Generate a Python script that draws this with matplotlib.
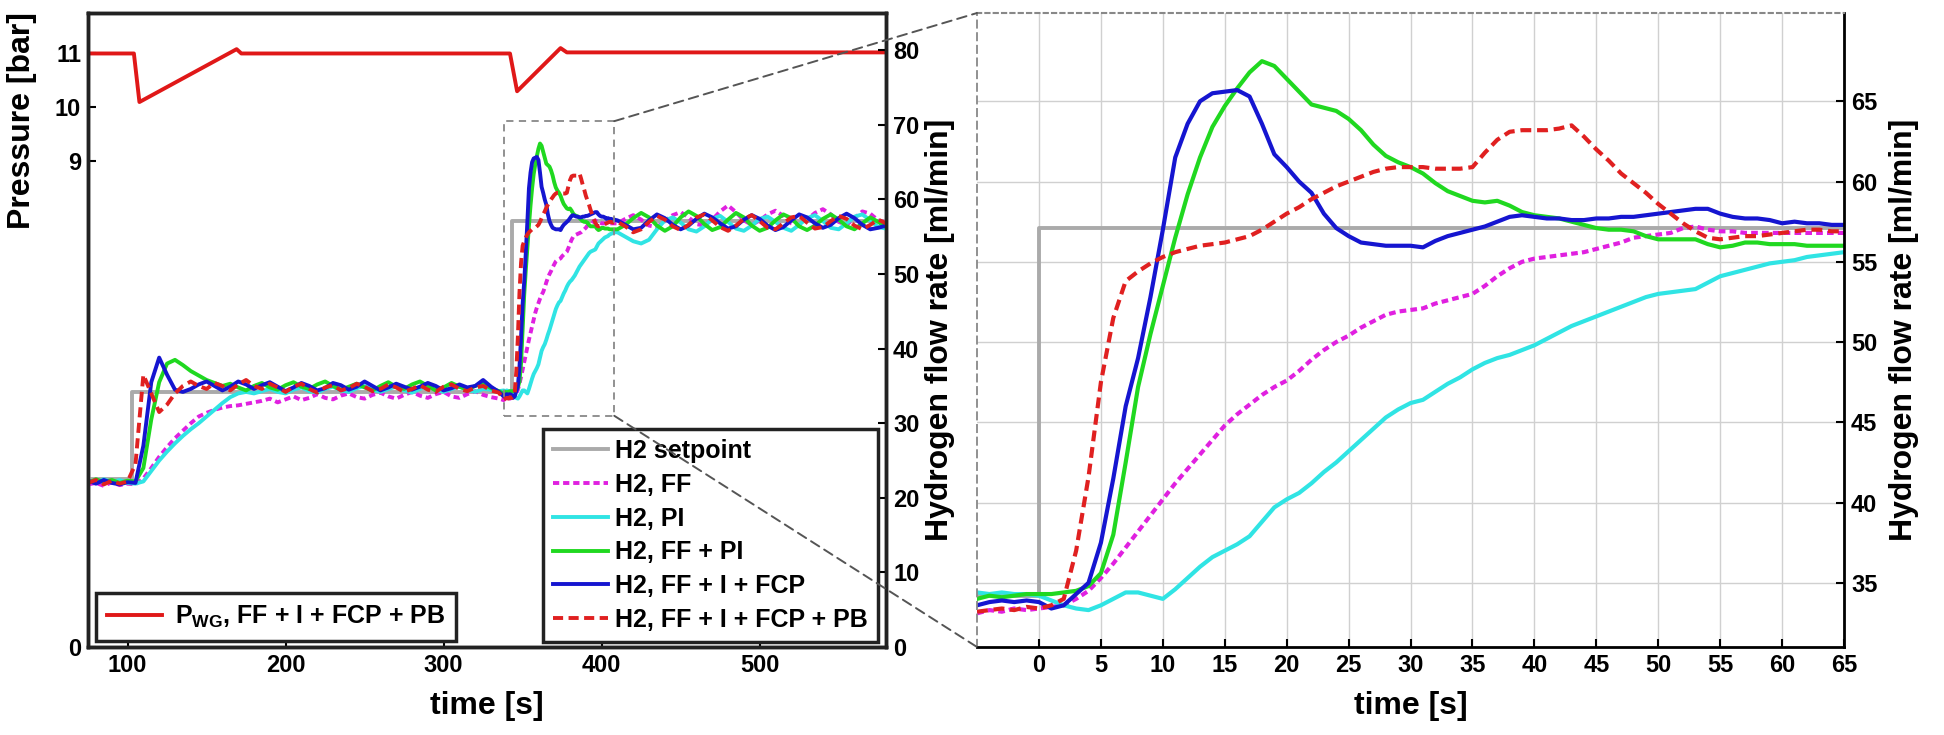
import numpy as np
import matplotlib
matplotlib.use('Agg')
import matplotlib.pyplot as plt
from matplotlib.patches import ConnectionPatch, Rectangle

plt.rcParams['font.family'] = 'Liberation Sans'
plt.rcParams['font.weight'] = 'bold'
plt.rcParams['axes.labelweight'] = 'bold'
plt.rcParams['mathtext.fontset'] = 'custom'
plt.rcParams['mathtext.rm'] = 'Liberation Sans:bold'
plt.rcParams['mathtext.it'] = 'Liberation Sans:bold'
plt.rcParams['mathtext.bf'] = 'Liberation Sans:bold'

# -- time of the second setpoint step (zoom window is relative to it)
t_step = 343.0

# -- left panel time grids [s]
t_pre = np.arange(75, 336, 5)
t_post = np.arange(410, 581, 5)
# -- zoom window time grid [s], relative to t_step
t_zoom = np.arange(-5, 66, 1)

# -- setpoint
sp_t = [75, 103, 103, 343, 343, 580]
sp_v = [22.5, 22.5, 34.2, 34.2, 57.1, 57.1]

# -- pressure P_WG [bar]
p_t = [75, 104, 107.5, 169, 172, 342, 346.5, 374, 378, 580]
p_v = [11.0, 11.0, 10.1, 11.08, 11.0, 11.0, 10.3, 11.1, 11.02, 11.02]

# -- H2 flow, before the zoom window (75..335 s)
ff_pre = [21.8, 22.0, 21.6, 22.1, 21.7, 21.9, 21.8, 22.6, 24.0, 25.5,
          26.8, 28.0, 29.0, 30.0, 30.9, 31.4, 31.8, 32.1, 32.3, 32.4,
          32.6, 32.8, 33.0, 33.3, 32.8, 33.2, 33.6, 33.1, 33.4, 33.9,
          33.4, 33.2, 33.7, 34.0, 33.5, 33.3, 33.8, 34.1, 33.6, 33.3,
          33.8, 34.2, 33.7, 33.4, 33.9, 34.2, 33.6, 33.4, 33.9, 34.3,
          33.8, 33.5, 33.3]
pi_pre = [22.3, 22.0, 22.5, 22.1, 22.4, 22.0, 21.9, 22.2, 23.6, 25.0,
          26.2, 27.3, 28.3, 29.2, 30.0, 30.9, 31.8, 32.7, 33.5, 34.0,
          34.2, 34.0, 34.3, 34.6, 34.2, 34.0, 34.5, 34.8, 34.3, 34.1,
          34.6, 34.9, 34.4, 34.2, 34.7, 35.0, 34.5, 34.2, 34.6, 34.9,
          34.4, 34.1, 34.6, 35.0, 34.5, 34.2, 34.6, 34.9, 34.5, 34.2,
          34.6, 34.5, 34.3]
ffpi_pre = [22.0, 22.5, 22.1, 22.4, 22.0, 22.3, 22.2, 24.0, 30.5, 35.5,
            38.0, 38.5, 37.8, 37.0, 36.4, 35.8, 35.4, 35.0, 35.3, 34.8,
            34.4, 35.0, 35.4, 34.8, 34.5, 35.1, 35.5, 34.9, 34.6, 35.2,
            35.6, 35.0, 34.5, 34.9, 35.3, 34.8, 34.4, 35.0, 35.5, 34.9,
            34.6, 35.2, 35.6, 35.0, 34.4, 34.8, 35.4, 34.9, 34.5, 35.0,
            35.3, 34.7, 34.3]
fcp_pre = [22.3, 21.9, 22.4, 22.0, 21.8, 22.1, 22.0, 27.0, 35.5, 38.8,
           36.5, 34.5, 34.2, 34.6, 35.2, 35.6, 35.0, 34.4, 34.9, 35.6,
           35.2, 34.6, 35.1, 35.5, 34.9, 34.3, 34.8, 35.4, 35.0, 34.4,
           34.7, 35.4, 35.1, 34.5, 34.9, 35.6, 35.0, 34.4, 34.8, 35.3,
           34.9, 34.5, 34.9, 35.4, 35.0, 34.4, 34.7, 35.2, 34.8, 35.0,
           35.8, 34.9, 34.2]
pb_pre = [22.0, 22.4, 21.8, 22.3, 21.9, 22.2, 24.5, 36.5, 34.0, 31.5,
          32.5, 34.0, 35.0, 35.6, 35.0, 34.6, 35.4, 35.0, 34.4, 35.2,
          35.8, 35.0, 34.6, 35.3, 34.8, 34.2, 34.9, 35.3, 34.6, 34.1,
          34.8, 35.1, 34.4, 34.7, 35.3, 34.9, 34.3, 34.6, 35.2, 34.8,
          34.2, 34.6, 35.1, 34.5, 34.2, 34.9, 35.2, 34.6, 34.3, 34.8,
          35.0, 34.4, 34.1]

# -- H2 flow, zoom window (-5..65 s after the step)
ff_zoom = [33.1, 33.3, 33.2, 33.4, 33.3, 33.4, 33.5, 33.6, 34.0, 34.5,
           35.3, 36.2, 37.2, 38.2, 39.2, 40.2, 41.2, 42.1, 43.0, 43.9,
           44.8, 45.5, 46.1, 46.7, 47.2, 47.6, 48.2, 48.9, 49.5, 50.0,
           50.4, 50.9, 51.3, 51.7, 51.9, 52.0, 52.1, 52.4, 52.6, 52.8,
           53.0, 53.5, 54.1, 54.6, 55.0, 55.2, 55.3, 55.4, 55.5, 55.6,
           55.8, 56.0, 56.2, 56.5, 56.6, 56.7, 56.8, 57.1, 57.2, 57.0,
           56.9, 56.9, 56.8, 56.8, 56.8, 56.8, 56.8, 56.8, 56.8, 56.8,
           56.8]
pi_zoom = [34.4, 34.3, 34.4, 34.3, 34.3, 34.2, 33.9, 33.6, 33.4, 33.3,
           33.6, 34.0, 34.4, 34.4, 34.2, 34.0, 34.6, 35.3, 36.0, 36.6,
           37.0, 37.4, 37.9, 38.8, 39.7, 40.2, 40.6, 41.2, 41.9, 42.5,
           43.2, 43.9, 44.6, 45.3, 45.8, 46.2, 46.4, 46.9, 47.4, 47.8,
           48.3, 48.7, 49.0, 49.2, 49.5, 49.8, 50.2, 50.6, 51.0, 51.3,
           51.6, 51.9, 52.2, 52.5, 52.8, 53.0, 53.1, 53.2, 53.3, 53.7,
           54.1, 54.3, 54.5, 54.7, 54.9, 55.0, 55.1, 55.3, 55.4, 55.5,
           55.6]
ffpi_zoom = [34.0, 34.2, 34.1, 34.2, 34.3, 34.3, 34.3, 34.4, 34.5, 34.8,
             35.6, 38.0, 42.5, 47.2, 50.5, 53.5, 56.5, 59.2, 61.5, 63.4,
             64.7, 65.8, 66.8, 67.5, 67.2, 66.4, 65.6, 64.8, 64.6, 64.4,
             63.9, 63.2, 62.3, 61.6, 61.2, 60.9, 60.5, 59.9, 59.4, 59.1,
             58.8, 58.7, 58.8, 58.5, 58.1, 57.9, 57.8, 57.7, 57.5, 57.3,
             57.1, 57.0, 57.0, 56.9, 56.6, 56.4, 56.4, 56.4, 56.4, 56.1,
             55.9, 56.0, 56.2, 56.2, 56.1, 56.1, 56.1, 56.0, 56.0, 56.0,
             56.0]
fcp_zoom = [33.6, 33.8, 33.9, 33.8, 33.9, 33.8, 33.4, 33.6, 34.3, 35.0,
            37.5, 41.5, 46.0, 49.0, 52.8, 57.0, 61.5, 63.6, 65.0, 65.5,
            65.6, 65.7, 65.3, 63.6, 61.7, 60.9, 60.0, 59.3, 58.0, 57.1,
            56.6, 56.2, 56.1, 56.0, 56.0, 56.0, 55.9, 56.3, 56.6, 56.8,
            57.0, 57.2, 57.5, 57.8, 57.9, 57.8, 57.7, 57.7, 57.6, 57.6,
            57.7, 57.7, 57.8, 57.8, 57.9, 58.0, 58.1, 58.2, 58.3, 58.3,
            58.0, 57.8, 57.7, 57.7, 57.6, 57.4, 57.5, 57.4, 57.4, 57.3,
            57.3]
pb_zoom = [33.2, 33.3, 33.4, 33.3, 33.5, 33.4, 33.6, 34.0, 37.0, 41.6,
           47.5, 51.5, 53.8, 54.4, 54.9, 55.3, 55.6, 55.8, 56.0, 56.1,
           56.2, 56.4, 56.6, 57.0, 57.5, 58.0, 58.4, 58.9, 59.3, 59.7,
           60.0, 60.3, 60.6, 60.8, 60.9, 60.9, 60.9, 60.8, 60.8, 60.8,
           60.9, 61.8, 62.6, 63.1, 63.2, 63.2, 63.2, 63.3, 63.5, 62.8,
           62.0, 61.3, 60.5, 59.9, 59.3, 58.6, 58.0, 57.4, 56.9, 56.5,
           56.4, 56.5, 56.6, 56.6, 56.7, 56.8, 56.9, 57.0, 57.0, 56.9,
           56.9]

# -- H2 flow, after the zoom window (410..580 s)
ff_post = [56.8, 57.4, 57.9, 57.3, 56.5, 56.3, 57.1, 57.9, 58.3, 57.6,
           56.7, 56.5, 57.3, 58.4, 59.2, 58.3, 57.2, 56.6, 57.2, 58.0,
           58.5, 57.8, 56.8, 56.5, 57.3, 58.2, 58.7, 58.0, 57.0, 56.6,
           57.5, 58.4, 58.1, 57.2, 56.9]
pi_post = [55.6, 55.0, 54.4, 54.1, 54.6, 56.0, 57.2, 57.6, 56.9, 56.0,
           55.7, 56.4, 57.4, 57.8, 57.0, 56.1, 55.8, 56.5, 57.4, 57.7,
           57.0, 56.2, 55.8, 56.6, 57.5, 57.9, 57.1, 56.2, 56.0, 56.8,
           57.7, 58.0, 57.2, 56.3, 56.1]
ffpi_post = [56.0, 56.6, 57.5, 58.2, 57.6, 56.5, 55.8, 56.4, 57.6, 58.4,
             57.8, 56.7, 55.9, 56.3, 57.3, 58.2, 57.6, 56.5, 55.8, 56.2,
             57.2, 58.0, 57.5, 56.4, 55.9, 56.5, 57.4, 58.0, 57.3, 56.4,
             56.0, 56.8, 57.6, 57.0, 56.3]
fcp_post = [57.2, 56.6, 56.0, 56.2, 57.2, 58.0, 57.5, 56.6, 56.0, 56.5,
            57.4, 58.1, 57.6, 56.8, 56.1, 56.4, 57.3, 57.9, 57.4, 56.5,
            55.9, 56.3, 57.2, 58.0, 57.6, 56.8, 56.2, 56.6, 57.5, 58.1,
            57.5, 56.6, 56.0, 56.2, 56.5]
pb_post = [57.0, 56.4, 55.6, 56.0, 57.0, 57.8, 57.3, 56.4, 55.9, 56.6,
           57.6, 58.0, 57.2, 56.3, 55.8, 56.5, 57.4, 57.9, 57.1, 56.2,
           56.0, 56.8, 57.6, 57.8, 56.9, 56.1, 56.3, 57.1, 57.8, 57.4,
           56.5, 56.0, 56.6, 57.3, 56.8]

labels = ['H2, FF', 'H2, PI', 'H2, FF + PI', 'H2, FF + I + FCP',
          'H2, FF + I + FCP + PB']
colors = ['#e020e0', '#30e4e4', '#20d820', '#1515d0', '#e02020']
styles = [(0, (1.6, 1.0)), '-', '-', '-', (0, (2.6, 1.4))]
pre = [ff_pre, pi_pre, ffpi_pre, fcp_pre, pb_pre]
zoom = [ff_zoom, pi_zoom, ffpi_zoom, fcp_zoom, pb_zoom]
post = [ff_post, pi_post, ffpi_post, fcp_post, pb_post]

sp_color = '#aaaaaa'
lwd = 2.8
fs_tick = 17
fs_lab = 23
fs_leg = 18

fig = plt.figure(figsize=(19.44, 7.35), dpi=100)
ax = fig.add_axes([0.0453, 0.1197, 0.4105, 0.8626])
ax2 = ax.twinx()
ax3 = fig.add_axes([0.5026, 0.1197, 0.446, 0.8626])

# -- left panel: pressure
hp, = ax.plot(p_t, p_v, color='#e01818', linewidth=lwd,
              label=r'P$_{\rm WG}$, FF + I + FCP + PB')
ax.set_xlim(75, 580)
ax.set_ylim(0, 11.75)
ax.set_yticks([0, 9, 10, 11])
ax.set_xticks([100, 200, 300, 400, 500])
ax.set_xlabel('time [s]', fontsize=fs_lab, labelpad=10)
ax.set_ylabel('Pressure [bar]', fontsize=fs_lab)
ax.yaxis.set_label_coords(-0.064, 0.83)

# -- left panel: flows
handles = []
h, = ax2.plot(sp_t, sp_v, color=sp_color, linewidth=lwd, label='H2 setpoint')
handles.append(h)
t_all = np.concatenate([t_pre, t_zoom + t_step, t_post])
for lab, col, ls, a, b, c in zip(labels, colors, styles, pre, zoom, post):
    h, = ax2.plot(t_all, np.concatenate([a, b, c]), color=col,
                  linestyle=ls, linewidth=lwd, label=lab)
    handles.append(h)
ax2.set_ylim(0, 85)
ax2.set_yticks(range(0, 81, 10))
ax2.set_ylabel('Hydrogen flow rate [ml/min]', fontsize=fs_lab, labelpad=4)

for a_ in (ax, ax2):
    a_.tick_params(direction='in', labelsize=fs_tick, length=6, width=1.5,
                   pad=5)
    for s in a_.spines.values():
        s.set_linewidth(2.5)
        s.set_color('#222222')

leg1 = ax2.legend(handles=[hp], loc='lower left', bbox_to_anchor=(0.01, 0.009),
                  borderaxespad=0, fontsize=fs_leg, fancybox=False,
                  edgecolor='#222222', framealpha=1, handlelength=2.2,
                  handletextpad=0.5, borderpad=0.45)
leg1.get_frame().set_linewidth(2.5)
ax2.add_artist(leg1)
leg2 = ax2.legend(handles=handles, loc='lower right',
                  bbox_to_anchor=(0.99, 0.008), borderaxespad=0,
                  fontsize=fs_leg, fancybox=False, edgecolor='#222222',
                  framealpha=1, handlelength=2.2, labelspacing=0.39,
                  handletextpad=0.3, borderpad=0.4)
leg2.get_frame().set_linewidth(2.5)

# -- right panel: zoom of the second step
ax3.plot(np.array(sp_t) - t_step, sp_v, color=sp_color, linewidth=lwd)
for col, ls, b in zip(colors, styles, zoom):
    ax3.plot(t_zoom, b, color=col, linestyle=ls, linewidth=lwd + 0.2)
ax3.set_xlim(-5, 65)
ax3.set_ylim(31, 70.5)
ax3.set_xticks(range(0, 66, 5))
ax3.set_yticks(range(35, 66, 5))
ax3.yaxis.tick_right()
ax3.yaxis.set_label_position('right')
ax3.grid(True, color='#d0d0d0', linewidth=1.0)
ax3.set_axisbelow(True)
ax3.tick_params(direction='in', labelsize=fs_tick, length=6, width=1.5, pad=5)
ax3.set_xlabel('time [s]', fontsize=fs_lab, labelpad=10)
ax3.set_ylabel('Hydrogen flow rate [ml/min]', fontsize=fs_lab, labelpad=8)
for side in ('right', 'bottom'):
    ax3.spines[side].set_linewidth(2.0)
    ax3.spines[side].set_color('black')
ax3.spines['top'].set_linestyle((0, (2, 2)))
ax3.spines['top'].set_color('#888888')
ax3.spines['top'].set_linewidth(1.5)
ax3.spines['left'].set_linestyle((0, (4, 3)))
ax3.spines['left'].set_color('#888888')
ax3.spines['left'].set_linewidth(1.3)

# -- zoom rectangle and connecting lines
x0, x1 = ax3.get_xlim()
y0, y1 = ax3.get_ylim()
ax2.add_patch(Rectangle((x0 + t_step, y0), x1 - x0, y1 - y0, fill=False,
                        linestyle=(0, (4, 3)), edgecolor='#888888',
                        linewidth=1.3, zorder=5))
for yy in (y0, y1):
    con = ConnectionPatch(xyA=(x1 + t_step, yy), coordsA=ax2.transData,
                          xyB=(x0, yy), coordsB=ax3.transData,
                          linestyle=(0, (5, 3)), color='#555555',
                          linewidth=1.4)
    fig.add_artist(con)

plt.savefig('out.png', dpi=100)
plt.close()
